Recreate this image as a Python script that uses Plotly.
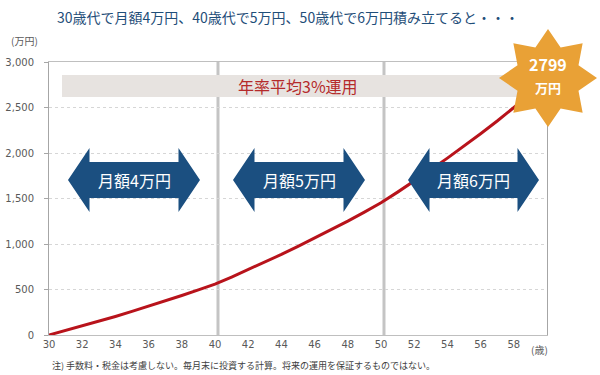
import math
import plotly.graph_objects as go

# ---------------- data ----------------
ages = list(range(30, 61))
balance = [0, 49, 99, 150, 204, 259, 315, 374, 434, 496, 559,
           637, 717, 800, 885, 973, 1063, 1156, 1252, 1351, 1453,
           1570, 1691, 1815, 1944, 2076, 2212, 2352, 2497, 2646, 2799]
x_ticks = list(range(30, 59, 2))
y_ticks = [0, 500, 1000, 1500, 2000, 2500, 3000]
y_tick_text = ["0", "500", "1,000", "1,500", "2,000", "2,500", "3,000"]
dividers = [40, 50]
arrow_labels = ["月額4万円", "月額5万円", "月額6万円"]
title_text = "30歳代で月額4万円、40歳代で5万円、50歳代で6万円積み立てると・・・"
band_text = "年率平均3%運用"
final_value = "2799"
final_unit = "万円"
note_text = "注) 手数料・税金は考慮しない。毎月末に投資する計算。将来の運用を保証するものではない。"

# ---------------- layout helpers (pixel -> paper) ----------------
W_FIG, H_FIG = 600, 375
L, R, T, B = 49, 53, 62, 40
PW = W_FIG - L - R
PH = H_FIG - T - B


def px(x):
    return (x - L) / PW


def py(y):
    return (H_FIG - B - y) / PH


def path(points):
    return "M " + " L ".join(f"{px(x):.5f},{py(y):.5f}" for x, y in points) + " Z"


JP = "Noto Sans CJK JP"
NAVY = "#1B4F80"
GREY_TXT = "#595959"

fig = go.Figure()
fig.add_trace(go.Scatter(
    x=ages, y=balance, mode="lines",
    line=dict(color="#B8131B", width=3),
    hoverinfo="skip", showlegend=False,
))

shapes = []
for d in dividers:
    shapes.append(dict(type="line", xref="x", yref="paper", x0=d + 0.18, x1=d + 0.18,
                       y0=0, y1=1, line=dict(color="#c4c4c4", width=3), layer="between"))

shapes.append(dict(type="rect", xref="paper", yref="paper",
                   x0=px(62), x1=px(530), y0=py(97), y1=py(75),
                   fillcolor="#E7E3E0", line=dict(width=0), layer="above"))

arrow_spans = [(68, 200), (233, 365), (408, 539)]
yc, yt, yb, st, sb, hw = 180, 148, 212, 162, 198, 21.5
for (x0, x1) in arrow_spans:
    pts = [(x0, yc), (x0 + hw, yt), (x0 + hw, st), (x1 - hw, st), (x1 - hw, yt),
           (x1, yc), (x1 - hw, yb), (x1 - hw, sb), (x0 + hw, sb), (x0 + hw, yb)]
    shapes.append(dict(type="path", xref="paper", yref="paper", path=path(pts),
                       fillcolor=NAVY, line=dict(width=0), layer="above"))

cx, cy, Ro, Ri = 548, 78, 49, 33
star_pts = []
for i in range(16):
    ang = -math.pi / 2 + i * math.pi / 8
    r = Ro if i % 2 == 0 else Ri
    star_pts.append((cx + r * math.cos(ang), cy + r * math.sin(ang)))
shapes.append(dict(type="path", xref="paper", yref="paper", path=path(star_pts),
                   fillcolor="#E9A136", line=dict(width=0), layer="above"))


def ann(text, x, y, size, color, xanchor="center", **kw):
    return dict(text=text, xref="paper", yref="paper", x=px(x), y=py(y),
                xanchor=xanchor, yanchor="middle", showarrow=False,
                font=dict(family=JP, size=size, color=color), **kw)


annotations = [
    ann(title_text, 288, 17, 14, "#1F4E79"),
    ann("(万円)", 24, 40, 10, GREY_TXT),
    ann("(歳)", 539, 349, 10, GREY_TXT),
    ann(note_text, 50, 365, 9, "#404040", xanchor="left"),
    ann(band_text, 298, 86, 16, "#B52A2A"),
    ann(f"<b>{final_value}</b>", 548, 64, 16, "white"),
    ann(f"<b>{final_unit}</b>", 548, 87, 13, "white"),
]
for (x0, x1), lab in zip(arrow_spans, arrow_labels):
    annotations.append(ann(lab, (x0 + x1) / 2, 180, 16, "white"))

fig.update_layout(
    width=W_FIG, height=H_FIG,
    margin=dict(l=L, r=R, t=T, b=B, pad=0),
    paper_bgcolor="white", plot_bgcolor="white",
    shapes=shapes, annotations=annotations,
    showlegend=False,
    xaxis=dict(range=[30, 60], tickvals=x_ticks, showgrid=False, zeroline=False,
               showline=True, linecolor="#bfbfbf", linewidth=1, mirror=True,
               ticks="", tickfont=dict(family="DejaVu Sans", size=10, color=GREY_TXT),
               fixedrange=True, automargin=False),
    yaxis=dict(range=[0, 3000], tickvals=y_ticks, ticktext=y_tick_text,
               showgrid=True, gridcolor="#d6d6d6", griddash="dot", gridwidth=1,
               zeroline=False, showline=True, linecolor="#a6a6a6", linewidth=1, mirror=True,
               ticks="outside", ticklen=4, tickcolor="#a6a6a6",
               ticklabelstandoff=8,
               tickfont=dict(family="DejaVu Sans", size=10, color=GREY_TXT),
               fixedrange=True, automargin=False),
)

fig.write_html("out.html", config={"displayModeBar": False},
               post_script="document.body.style.margin='0';")
